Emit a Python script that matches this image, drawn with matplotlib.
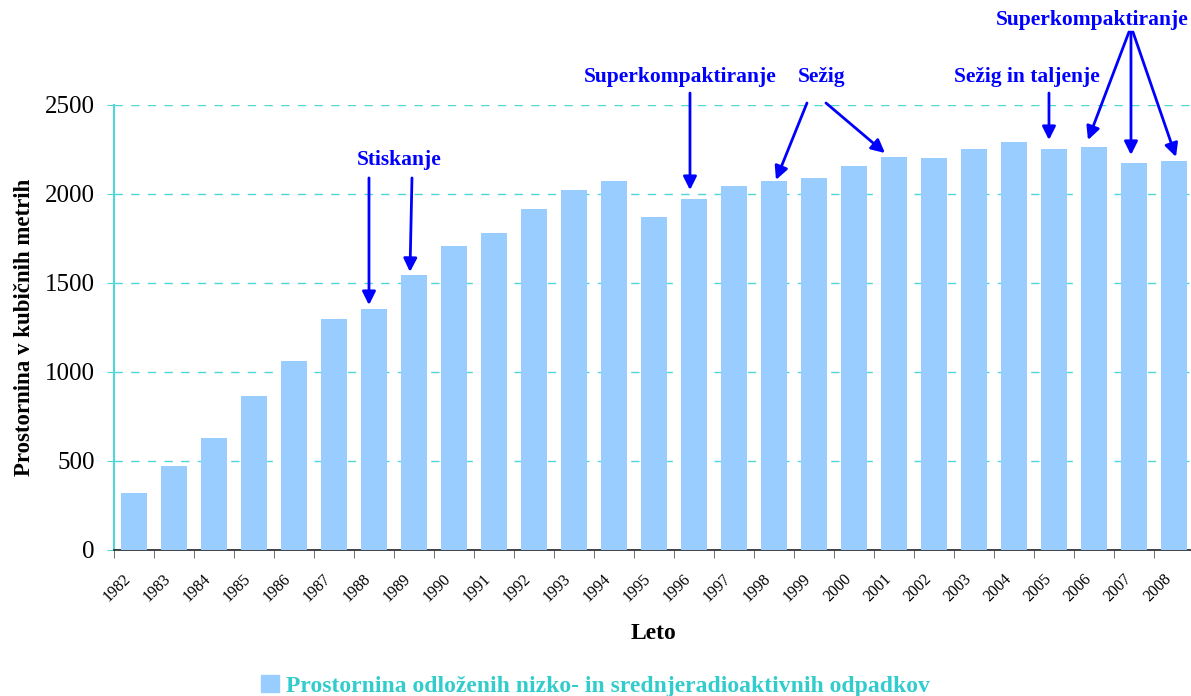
import numpy as np
import matplotlib.pyplot as plt
import matplotlib.transforms as mtransforms
from matplotlib.patches import Patch

plt.rcParams['font.family'] = ['Liberation Serif', 'DejaVu Serif']

# data
years = [str(y) for y in range(1982, 2009)]
volumes = [320, 472, 629, 865, 1062, 1298, 1354, 1545, 1708, 1781, 1916, 2022,
           2073, 1871, 1972, 2045, 2073, 2090, 2157, 2208, 2202, 2253, 2292,
           2253, 2264, 2174, 2185]
legend_label = 'Prostornina odloženih nizko- in srednjeradioaktivnih odpadkov'

bar_color = '#99CCFF'
grid_color = '#4FD6D6'
note_color = '#0000FF'

fig = plt.figure(figsize=(11.91, 6.96), dpi=100)
ax = fig.add_axes([0.0957, 0.2098, 0.9068, 0.6394])

x = np.arange(len(years))
ax.bar(x, volumes, width=0.65, color=bar_color, zorder=3)

ax.set_xlim(-0.5, len(years) - 0.5)
ax.set_ylim(0, 2500)
ax.set_yticks(np.arange(0, 2501, 500))
ax.yaxis.grid(True, linestyle=(0, (6, 6)), color=grid_color, lw=1, zorder=0)

for s in ['top', 'right']:
    ax.spines[s].set_visible(False)
ax.spines['left'].set_color(grid_color)
ax.spines['left'].set_linewidth(1.5)
ax.spines['bottom'].set_color('#222222')
ax.spines['bottom'].set_linewidth(1.2)

ax.tick_params(axis='y', labelsize=18, length=5, color=grid_color, pad=9)
ax.set_xticks(x)
ax.set_xticklabels(years, rotation=45, ha='right', va='top',
                   rotation_mode='anchor', fontsize=11.5)
ax.tick_params(axis='x', which='major', length=0, pad=15)
shift = mtransforms.ScaledTranslation(-0.11, 0, fig.dpi_scale_trans)
for lab in ax.get_xticklabels():
    lab.set_transform(lab.get_transform() + shift)
ax.set_xticks(x - 0.5, minor=True)
ax.tick_params(axis='x', which='minor', length=6, color='#555555')

ax.set_ylabel('Prostornina v kubičnih metrih', fontsize=16.5, fontweight='bold',
              labelpad=7)
ax.set_xlabel('Leto', fontsize=17, fontweight='bold', labelpad=13)


# annotations
def note(text, tx, ty):
    ax.text(tx, ty, text, color=note_color, fontsize=15.5, fontweight='bold',
            ha='center', va='center', clip_on=False)


def arrow(x0, y0, x1, y1):
    ax.annotate('', xy=(x1, y1), xytext=(x0, y0), annotation_clip=False,
                arrowprops=dict(arrowstyle='-|>', color=note_color, lw=2,
                                mutation_scale=20, shrinkA=0, shrinkB=0),
                zorder=5)


note('Stiskanje', 6.625, 2191)
arrow(5.875, 2090, 5.875, 1376)
arrow(6.95, 2090, 6.9, 1562)

note('Superkompaktiranje', 13.65, 2657)
arrow(13.9, 2567, 13.9, 2022)

note('Sežig', 17.2, 2657)
arrow(16.825, 2511, 16.05, 2079)
arrow(17.3, 2511, 18.775, 2230)

note('Sežig in taljenje', 22.325, 2657)
arrow(22.875, 2567, 22.875, 2303)

note('Superkompaktiranje', 23.95, 2978)
arrow(24.875, 2910, 23.85, 2303)
arrow(24.925, 2910, 24.925, 2219)
arrow(24.975, 2910, 26.05, 2208)

fig.legend(handles=[Patch(color=bar_color, label=legend_label)],
           loc='lower center', bbox_to_anchor=(0.5, -0.032), frameon=False,
           labelcolor='#33CCCC', handlelength=0.75,
           handleheight=0.75, handletextpad=0.3,
           prop={'weight': 'bold', 'size': 17})

fig.savefig('out.png', dpi=100)
